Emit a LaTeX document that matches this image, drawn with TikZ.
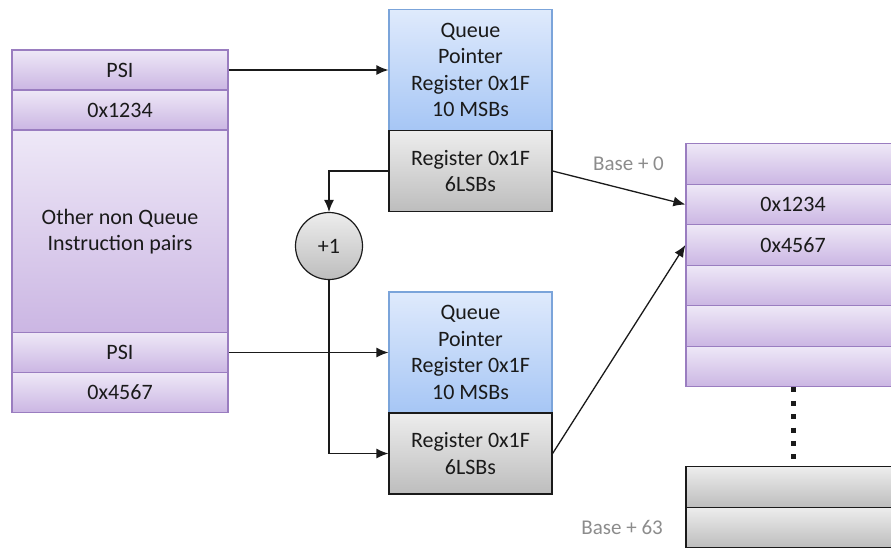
\documentclass[tikz,border=0pt]{standalone}
\usepackage{fontspec}
\setmainfont{Carlito}
\usetikzlibrary{arrows.meta,positioning}
\definecolor{lilacline}{HTML}{9A7DC0}
\definecolor{lilactop}{HTML}{EEE8F7}
\definecolor{lilacbot}{HTML}{CBB6E3}
\definecolor{blueline}{HTML}{7BA4DA}
\definecolor{bluetop}{HTML}{DFEAFC}
\definecolor{bluebot}{HTML}{A6C6F5}
\definecolor{greytop}{HTML}{EDEDED}
\definecolor{greybot}{HTML}{BDBDBD}
\definecolor{ink}{HTML}{1A1A1A}
\definecolor{basegrey}{HTML}{8C8C8C}
\begin{document}
\begin{tikzpicture}[x=1pt,y=-1pt,
    txt/.style={font=\fontsize{22}{26.5}\selectfont,text=ink,align=center},
    cell/.style={rectangle,draw=lilacline,line width=1.2pt,top color=lilactop,bottom color=lilacbot,minimum width=216pt,minimum height=40pt,inner sep=0pt,txt},
    qreg/.style={rectangle,draw=blueline,line width=1.2pt,top color=bluetop,bottom color=bluebot,minimum width=163pt,minimum height=121pt,inner sep=0pt,txt},
    lreg/.style={rectangle,draw=ink,line width=1.2pt,top color=greytop,bottom color=greybot,minimum width=163pt,minimum height=81pt,inner sep=0pt,txt},
    slot/.style={cell,minimum width=214pt,minimum height=40.5pt},
    gslot/.style={slot,draw=ink,top color=greytop,bottom color=greybot},
    inc/.style={circle,draw=ink,line width=1.2pt,top color=greytop,bottom color=greybot,minimum size=67pt,inner sep=0pt,txt},
    lbl/.style={font=\fontsize{21}{24}\selectfont,text=basegrey},
    link/.style={draw=ink,line width=1.3pt,-{Latex[length=12pt,width=10pt]}}]
    \useasboundingbox (0,0) rectangle (891,549);

    % instruction stream
    \node[cell] (psiA) at (120,70) {PSI};
    \node[cell] (hexA) at (120,110) {0x1234};
    \node[cell,minimum height=203pt] (other) at (120,231.5) {Other non Queue\\Instruction pairs};
    \node[cell] (psiB) at (120,352.5) {PSI};
    \node[cell] (hexB) at (120,392.5) {0x4567};

    % queue pointer registers
    \node[qreg] (qptrA) at (470.5,70) {Queue\\Pointer\\Register 0x1F\\10 MSBs};
    \node[lreg] (lsbA) at (470.5,171) {Register 0x1F\\6LSBs};
    \node[qreg] (qptrB) at (470.5,352.5) {Queue\\Pointer\\Register 0x1F\\10 MSBs};
    \node[lreg] (lsbB) at (470.5,453.5) {Register 0x1F\\6LSBs};

    \node[inc] (plus) at (329,246) {+1};

    % queue memory
    \node[slot] (r0) at (793,164) {};
    \node[slot] (r1) at (793,204.5) {0x1234};
    \node[slot] (r2) at (793,245) {0x4567};
    \node[slot] (r3) at (793,285.5) {};
    \node[slot] (r4) at (793,326) {};
    \node[slot] (r5) at (793,366.5) {};
    \node[gslot] (g0) at (793,487) {};
    \node[gslot] (g1) at (793,527.5) {};

    \node[lbl,left=18pt of r0] (base0) {Base + 0};
    \node[lbl,left=19pt of g1] (base63) {Base + 63};

    \draw[ink,line width=5pt,dash pattern=on 5pt off 8.4pt] (r5.south) -- (g0.north);

    \draw[link] (psiA.east) -- (qptrA.west);
    \draw[link] (psiB.east) -- (qptrB.west);

    \draw[link] (lsbA.west) -| (plus.north);
    \draw[link] (plus.south) |- (lsbB.west);

    \draw[link] (lsbA.east) -- (r1.west);
    \draw[link] (lsbB.east) -- (r2.west);
\end{tikzpicture}
\end{document}
